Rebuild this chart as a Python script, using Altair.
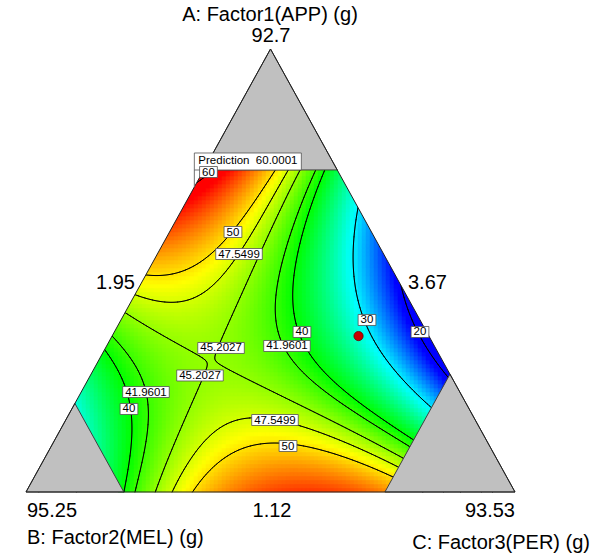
import numpy as np
import pandas as pd
import altair as alt

FONT = "Liberation Sans"

# ------------------------------------------------------------------ data
component_titles = ["A: Factor1(APP) (g)", "B: Factor2(MEL) (g)", "C: Factor3(PER) (g)"]
component_high = ["92.7", "95.25", "93.53"]
component_low = ["1.12", "3.67", "1.95"]      # A low (bottom side), B low (right side), C low (left side)
region_upper = [0.727, 0.800, 0.734]          # pseudo-component upper limits of A, B, C

contour_levels = [20, 30, 40, 41.9601, 45.2027, 47.5499, 50, 60]

# read-off points (A, C pseudo fractions) along the contour lines of the picture
c60 = [(0.691, 0.000), (0.711, 0.006), (0.727, 0.012)]
c50_top = [(0.727, 0.155), (0.673, 0.145), (0.616, 0.139), (0.589, 0.128), (0.553, 0.110),
           (0.526, 0.082), (0.503, 0.042), (0.492, 0.000)]
c475_top = [(0.727, 0.179), (0.661, 0.178), (0.589, 0.173), (0.537, 0.164), (0.476, 0.148),
            (0.440, 0.125), (0.433, 0.077), (0.438, 0.034), (0.442, 0.000)]
c452_right = [(0.727, 0.200), (0.661, 0.204), (0.571, 0.212), (0.458, 0.228), (0.368, 0.236),
              (0.325, 0.237), (0.289, 0.262), (0.255, 0.330), (0.210, 0.454), (0.165, 0.579),
              (0.113, 0.697), (0.093, 0.731)]
c452_left = [(0.406, 0.000), (0.352, 0.097), (0.307, 0.188), (0.278, 0.220), (0.233, 0.239),
             (0.187, 0.252), (0.131, 0.255), (0.074, 0.257), (0.002, 0.256)]
c4196_right = [(0.727, 0.231), (0.668, 0.225), (0.600, 0.233), (0.526, 0.255), (0.451, 0.293),
               (0.330, 0.368), (0.271, 0.418), (0.210, 0.495), (0.153, 0.606), (0.104, 0.719)]
c40_right = [(0.727, 0.247), (0.679, 0.251), (0.639, 0.254), (0.564, 0.273), (0.451, 0.326),
             (0.366, 0.380), (0.300, 0.430), (0.233, 0.515), (0.165, 0.630), (0.125, 0.722)]
c30 = [(0.646, 0.353), (0.564, 0.389), (0.503, 0.424), (0.451, 0.457), (0.388, 0.502),
       (0.339, 0.539), (0.300, 0.583), (0.271, 0.622), (0.210, 0.693), (0.187, 0.731)]
c20 = [(0.424, 0.576), (0.366, 0.623), (0.316, 0.666), (0.271, 0.716), (0.260, 0.731)]
c40_left = [(0.323, 0.000), (0.284, 0.046), (0.233, 0.090), (0.190, 0.115), (0.142, 0.139),
            (0.097, 0.160), (0.002, 0.201)]
c4196_left = [(0.350, 0.000), (0.293, 0.072), (0.233, 0.121), (0.187, 0.152), (0.097, 0.199),
              (0.002, 0.238)]
c475_bottom = [(0.000, 0.294), (0.063, 0.304), (0.120, 0.309), (0.153, 0.346), (0.165, 0.385),
               (0.165, 0.426), (0.156, 0.481), (0.126, 0.578), (0.102, 0.651), (0.074, 0.734)]
c50_bottom = [(0.000, 0.335), (0.034, 0.338), (0.059, 0.346), (0.081, 0.376), (0.093, 0.405),
              (0.102, 0.447), (0.106, 0.482), (0.102, 0.508), (0.079, 0.581), (0.059, 0.632),
              (0.041, 0.686), (0.025, 0.735)]

contour_readings = [
    (60, c60), (50, c50_top), (47.5499, c475_top), (45.2027, c452_right), (45.2027, c452_left),
    (41.9601, c4196_right), (40, c40_right), (30, c30), (20, c20), (40, c40_left),
    (41.9601, c4196_left), (47.5499, c475_bottom), (50, c50_bottom),
]

# read-off spot values (A, C, response) judged from the colours
spot_a = [0.727, 0.727, 0.571, 0.600, 0.000, 0.000, 0.000, 0.029, 0.000, 0.000, 0.196,
          0.097, 0.255, 0.727, 0.264, 0.300, 0.350, 0.549, 0.391, 0.368, 0.391, 0.273, 0.208,
          0.000, 0.000]
spot_c = [0.000, 0.073, 0.009, 0.030, 0.580, 0.478, 0.682, 0.524, 0.735, 0.198, 0.004,
          0.103, 0.000, 0.273, 0.733, 0.699, 0.650, 0.326, 0.425, 0.283, 0.108, 0.243, 0.354,
          0.247, 0.275]
spot_v = [61.0, 56.0, 54.5, 55.5, 57.0, 55.0, 55.0, 55.5, 52.0, 39.7, 31.5,
          35.0, 35.5, 37.0, 19.8, 17.5, 17.0, 36.0, 35.6, 43.5, 46.5, 45.5, 46.4,
          43.6, 46.4]

design_point_a, design_point_c = 0.352, 0.504     # red design point
flag_a, flag_c = 0.6885, 0.000                    # flagged prediction point
flag_text = "Prediction\u00a0\u00a060.0001"

label_text = ["60", "50", "47.5499", "45.2027", "45.2027", "41.9601", "40", "30", "20",
              "41.9601", "40", "47.5499", "50"]
label_a = [0.7223, 0.5869, 0.5372, 0.3251, 0.2630, 0.3296, 0.3612, 0.3883, 0.3612,
           0.2257, 0.1874, 0.1625, 0.1038]
label_c = [0.0120, 0.1298, 0.1670, 0.2363, 0.2243, 0.3689, 0.3838, 0.5032, 0.6251,
           0.1325, 0.1169, 0.4279, 0.4839]

# ------------------------------------------------------------------ fitted response surface
DEG = 5
A_fit, C_fit, V_fit = [], [], []
for lvl, trace in contour_readings:
    for a_, c_ in trace:
        A_fit.append(a_); C_fit.append(c_); V_fit.append(lvl)
A_fit += spot_a; C_fit += spot_c; V_fit += spot_v
A_fit, C_fit, V_fit = map(np.asarray, (A_fit, C_fit, V_fit))


def basis(a, c):
    cols = [a ** i * c ** j for i in range(DEG + 1) for j in range(DEG + 1 - i)]
    return np.stack(cols, axis=-1)


Mfit = basis(A_fit, C_fit)
ridge = 1e-5
coef = np.linalg.solve(Mfit.T @ Mfit + ridge * np.eye(Mfit.shape[1]), Mfit.T @ V_fit)


def surface(a, c):
    return basis(a, c) @ coef


# ------------------------------------------------------------------ layout / scales
W, H = 600, 556
TRI_LEFT, TRI_BOTTOM, TRI_W, TRI_H = 26, 492, 489, 443
xs = alt.Scale(domain=[-TRI_LEFT / TRI_W, (W - TRI_LEFT) / TRI_W], nice=False, zero=False)
ys = alt.Scale(domain=[-(H - TRI_BOTTOM) / TRI_H, TRI_BOTTOM / TRI_H], nice=False, zero=False)


def cart(a, c):
    a = np.asarray(a, float); c = np.asarray(c, float)
    return c + a / 2.0, a


# ------------------------------------------------------------------ heat map cells
dX, dY = 4 / TRI_W, 4 / TRI_H
gx0 = np.arange(0, 1, dX)
gy0 = np.arange(0, region_upper[0], dY)
GX, GY = np.meshgrid(gx0, gy0)
CA = GY + dY / 2
CC = GX + dX / 2 - CA / 2
CB = 1 - CA - CC
m = 0.012
keep = (CB >= -m) & (CC >= -m) & (CB <= region_upper[1] + m) & (CC <= region_upper[2] + m)
cells = pd.DataFrame({
    "x0": np.round(GX[keep], 5), "x1": np.round(GX[keep] + dX, 5),
    "y0": np.round(GY[keep], 5), "y1": np.round(GY[keep] + dY, 5),
    "v": np.round(surface(CA[keep], CC[keep]), 3),
})

cscale = alt.Scale(domain=[21, 30.5, 40, 49, 58],
                   range=["#0000ff", "#00ffff", "#00ff00", "#ffff00", "#ff0000"],
                   interpolate="rgb", clamp=True)

heat = alt.Chart(cells).mark_rect(strokeWidth=0.6).encode(
    x=alt.X("x0:Q", scale=xs, axis=None), x2="x1:Q",
    y=alt.Y("y0:Q", scale=ys, axis=None), y2="y1:Q",
    color=alt.Color("v:Q", scale=cscale, legend=None),
    stroke=alt.Stroke("v:Q", scale=cscale, legend=None),
)

# ------------------------------------------------------------------ contour lines (marching squares)
gx = np.arange(0, 1.0001, 2 / TRI_W)
gy = np.arange(0, 0.745, 2 / TRI_H)
GX2, GY2 = np.meshgrid(gx, gy)
Z = surface(GY2, GX2 - GY2 / 2)


def march(Z, xs_, ys_, level):
    out = []
    z00, z10, z11, z01 = Z[:-1, :-1], Z[:-1, 1:], Z[1:, 1:], Z[1:, :-1]
    zmin = np.minimum(np.minimum(z00, z10), np.minimum(z11, z01))
    zmax = np.maximum(np.maximum(z00, z10), np.maximum(z11, z01))
    for j, i in np.argwhere((zmin < level) & (zmax > level)):
        P = [(xs_[i], ys_[j], Z[j, i]), (xs_[i + 1], ys_[j], Z[j, i + 1]),
             (xs_[i + 1], ys_[j + 1], Z[j + 1, i + 1]), (xs_[i], ys_[j + 1], Z[j + 1, i])]
        pts = []
        for k in range(4):
            p, q = P[k], P[(k + 1) % 4]
            if (p[2] - level) * (q[2] - level) < 0:
                t = (level - p[2]) / (q[2] - p[2])
                pts.append((p[0] + t * (q[0] - p[0]), p[1] + t * (q[1] - p[1])))
        if len(pts) == 2:
            out.append(pts)
        elif len(pts) == 4:
            out.append(pts[:2]); out.append(pts[2:])
    return out


seg_rows = []
for lvl in contour_levels:
    for (p, q) in march(Z, gx, gy, lvl):
        mx, my = (p[0] + q[0]) / 2, (p[1] + q[1]) / 2
        ma, mc = my, mx - my / 2
        mb = 1 - ma - mc
        if mb < -0.004 or mc < -0.004:
            continue
        seg_rows.append({"x": p[0], "y": p[1], "x2": q[0], "y2": q[1]})
segs = pd.DataFrame(seg_rows).round(5)

contours = alt.Chart(segs).mark_rule(color="black", strokeWidth=1, strokeCap="round").encode(
    x=alt.X("x:Q", scale=xs, axis=None), y=alt.Y("y:Q", scale=ys, axis=None),
    x2="x2:Q", y2="y2:Q",
)

# ------------------------------------------------------------------ frame
top_y = TRI_BOTTOM / TRI_H
outside = pd.DataFrame({"X": [0.0, 0.5, 1.0], "edge": [0.0, 1.0, 0.0], "top": [top_y] * 3})
white = alt.Chart(outside).mark_area(color="white").encode(
    x=alt.X("X:Q", scale=xs, axis=None), y=alt.Y("edge:Q", scale=ys, axis=None), y2="top:Q")

ua, ub, uc = region_upper
corners = pd.DataFrame({
    "tri": ["A"] * 3 + ["B"] * 3 + ["C"] * 3,
    "X": [ua / 2, 0.5, (1 - ua) + ua / 2,
          0.0, (1 - ub) / 2, 1 - ub,
          uc, uc + (1 - uc) / 2, 1.0],
    "Y": [ua, 1.0, ua, 0.0, 1 - ub, 0.0, 0.0, 1 - uc, 0.0],
    "base": [ua] * 3 + [0.0] * 6,
})
gray = alt.Chart(corners).mark_area(fill="#c0c0c0", stroke="#404040", strokeWidth=1,
                                    interpolate="linear").encode(
    x=alt.X("X:Q", scale=xs, axis=None), y=alt.Y("Y:Q", scale=ys, axis=None), y2="base:Q",
    detail="tri:N")

outline_df = pd.DataFrame({"X": [0.0, 0.5, 1.0, 0.0], "Y": [0.0, 1.0, 0.0, 0.0], "o": [0, 1, 2, 3]})
outline = alt.Chart(outline_df).mark_line(color="#202020", strokeWidth=1).encode(
    x=alt.X("X:Q", scale=xs, axis=None), y=alt.Y("Y:Q", scale=ys, axis=None), order="o:Q")

# ------------------------------------------------------------------ design point
dpx, dpy = cart(design_point_a, design_point_c)
dot = alt.Chart(pd.DataFrame({"X": [float(dpx)], "Y": [float(dpy)]})).mark_circle(
    size=85, fill="#c80000", stroke="#6a0000", strokeWidth=0.8, opacity=1).encode(
    x=alt.X("X:Q", scale=xs, axis=None), y=alt.Y("Y:Q", scale=ys, axis=None))

# ------------------------------------------------------------------ contour labels with boxes
LFS = 11.5


def text_w(s, fs):
    return sum(0.556 if ch.isdigit() else 0.278 for ch in s) * fs


lx, ly = cart(label_a, label_c)
lab = pd.DataFrame({"t": label_text, "X": lx, "Y": ly})
lab["hw"] = [(text_w(s, LFS) + 5) / 2 / TRI_W for s in label_text]
lab["x0"] = lab["X"] - lab["hw"]; lab["x1"] = lab["X"] + lab["hw"]
lab["y0"] = lab["Y"] - 5.5 / TRI_H; lab["y1"] = lab["Y"] + 5.5 / TRI_H

lab_box = alt.Chart(lab).mark_rect(fill="white", stroke="#505050", strokeWidth=0.8).encode(
    x=alt.X("x0:Q", scale=xs, axis=None), x2="x1:Q",
    y=alt.Y("y0:Q", scale=ys, axis=None), y2="y1:Q")
lab_txt = alt.Chart(lab).mark_text(font=FONT, fontSize=LFS, color="black",
                                   baseline="middle", align="center", dy=0.5).encode(
    x=alt.X("X:Q", scale=xs, axis=None), y=alt.Y("Y:Q", scale=ys, axis=None), text="t:N")

# ------------------------------------------------------------------ prediction flag
fx, fy = cart(flag_a, flag_c)
fx, fy = float(fx), float(fy)
flag_df = pd.DataFrame({"x0": [fx], "x1": [fx + 107 / TRI_W],
                        "y0": [fy + 17 / TRI_H], "y1": [fy + 34 / TRI_H],
                        "tx": [fx + 4 / TRI_W], "ty": [fy + 25.5 / TRI_H],
                        "px": [fx], "py": [fy], "t": [flag_text]})
flag_pole = alt.Chart(flag_df).mark_rule(color="#707070", strokeWidth=1).encode(
    x=alt.X("px:Q", scale=xs, axis=None), y=alt.Y("py:Q", scale=ys, axis=None), y2="y0:Q")
flag_box = alt.Chart(flag_df).mark_rect(fill="white", stroke="#505050", strokeWidth=0.8).encode(
    x=alt.X("x0:Q", scale=xs, axis=None), x2="x1:Q",
    y=alt.Y("y0:Q", scale=ys, axis=None), y2="y1:Q")
flag_txt = alt.Chart(flag_df).mark_text(font=FONT, fontSize=LFS, color="black",
                                        baseline="middle", align="left").encode(
    x=alt.X("tx:Q", scale=xs, axis=None), y=alt.Y("ty:Q", scale=ys, axis=None), text="t:N")


# ------------------------------------------------------------------ ternary axis texts
def txt(s, px, py, align="center", size=20):
    return alt.Chart(pd.DataFrame({"t": [s]})).mark_text(
        font=FONT, fontSize=size, color="black", align=align, baseline="middle").encode(
        x=alt.value(px), y=alt.value(py), text="t:N")


texts = [
    txt(component_titles[0], 270, 15),
    txt(component_high[0], 271, 36),
    txt(component_high[1], 27, 511, "left"),
    txt(component_titles[1], 27, 538, "left"),
    txt(component_low[0], 272, 511),
    txt(component_high[2], 515, 511, "right"),
    txt(component_titles[2], 590, 543, "right"),
    txt(component_low[2], 135, 283, "right"),
    txt(component_low[1], 408, 283, "left"),
]

chart = alt.layer(
    heat, contours, white, gray, outline, dot, flag_pole, flag_box, flag_txt,
    lab_box, lab_txt, *texts,
).properties(width=W, height=H, autosize="none", padding=0).configure_view(stroke=None)

chart.save("out.html", embed_options={"renderer": "svg", "actions": False})
